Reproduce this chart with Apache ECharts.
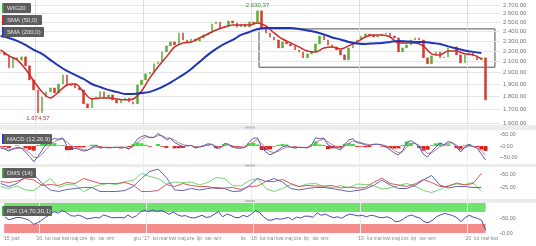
<!DOCTYPE html>
<html><head><meta charset="utf-8">
<script src="https://cdn.jsdelivr.net/npm/echarts@6/dist/echarts.min.js"></script>
<style>html,body{margin:0;padding:0;background:#fff}#c{width:536px;height:246px}</style>
</head><body><div id="c"></div>
<script>
// ---------- data ----------
const axisStart = '2015-09-05', axisEnd = '2020-04-20';
const priceStart = '2015-09-07', priceStepDays = 14;   // bi-weekly candles
const closes = [2183,2164,2044,2136,2117,2145,2062,1936,1853,1674.57,
 1796,1837,1869,1828,1902,1980,1886,1902,1869,1853,
 1742,1711,1780,1796,1837,1788,1812,1773,1749,1773,
 1788,1757,1742,1894,1936,1989,2006,2080,2098,2193,
 2252,2292,2262,2385,2312,2292,2322,2302,2333,2364,
 2385,2482,2504,2438,2449,2515,2493,2449,2482,2449,
 2504,2493,2630.37,2428,2385,2343,2312,2232,2292,2272,
 2252,2212,2193,2136,2174,2193,2272,2353,2312,2262,
 2242,2212,2164,2117,2232,2282,2312,2353,2374,2364,
 2343,2353,2374,2385,2353,2333,2193,2232,2262,2312,
 2333,2312,2136,2080,2155,2193,2136,2145,2232,2242,
 2164,2089,2164,2183,2155,2117,2136,1773];
const indStart = '2015-09-07', indStepDays = 28;       // moving averages & DMS
const sma50 = [2212,2155,2117,2033,1928,1837,1788,1837,1894,1902,
 1837,1780,1788,1788,1780,1773,1780,1844,1954,2053,
 2145,2242,2282,2292,2333,2374,2417,2449,2471,2471,
 2471,2493,2460,2385,2322,2282,2242,2202,2193,2232,
 2242,2222,2252,2292,2343,2364,2364,2343,2282,2282,
 2282,2252,2174,2164,2202,2202,2174,2164,2126];
const sma200 = [2353,2333,2302,2262,2212,2174,2117,2062,2015,1980,
 1945,1902,1877,1853,1837,1820,1820,1828,1837,1861,
 1894,1936,1980,2033,2098,2164,2222,2272,2312,2364,
 2395,2428,2438,2438,2438,2438,2428,2412,2395,2369,
 2338,2317,2292,2277,2272,2277,2282,2292,2302,2297,
 2292,2292,2282,2272,2247,2226,2207,2193,2183];
const macd = [-9,-13,-22,-12,-6,-8,-26,-46,-68,-45,
 -18,8,26,33,30,36,0,-15,-9,-15,
 -22,-18,-5,2,-9,-5,-8,-6,-5,-9,
 -5,-14,5,30,42,46,36,38,55,42,
 28,34,15,6,-2,2,3,-9,-4,2,
 10,8,-9,-9,12,8,-4,-9,-9,-4,
 17,35,35,-5,-26,-38,-30,-17,-4,2,
 -4,-9,-5,-6,-8,4,36,32,35,5,
 -4,-9,-17,8,26,32,15,12,5,2,
 8,8,4,-4,-17,-30,-39,-20,15,24,
 12,-4,-35,-48,-25,-5,13,6,20,15,
 -4,-26,-4,8,-2,-9,-35,-61];
const macdSignal = [-6,-9,-14,-13,-10,-9,-16,-30,-48,-50,
 -35,-15,5,20,27,31,18,2,-5,-10,
 -16,-17,-11,-4,-6,-6,-7,-7,-6,-7,
 -6,-10,-3,14,30,40,39,38,46,45,
 36,34,25,15,6,3,2,-3,-4,-1,
 5,7,0,-5,3,6,1,-4,-7,-6,
 5,20,28,12,-8,-24,-28,-23,-13,-5,
 -4,-6,-6,-6,-7,-2,16,25,30,18,
 6,-2,-10,-2,12,22,19,15,10,6,
 7,8,6,1,-8,-19,-29,-25,-5,10,
 12,4,-15,-32,-29,-17,-2,3,12,14,
 5,-11,-8,0,-1,-5,-20,-40];
const adx = [32,26,32,46,51,32,19,16,20,22,
 24,24,16,16,16,18,26,42,56,61,
 44,19,18,22,19,22,24,22,16,17,
 28,42,36,42,35,22,19,22,24,24,
 22,19,16,18,21,28,39,29,22,22,
 28,39,48,29,23,26,26,24,24];
const plusDI = [26,22,27,19,18,30,42,24,30,29,
 16,24,29,32,30,36,38,52,46,42,
 31,35,34,35,29,34,44,42,28,27,
 38,42,22,16,22,30,26,31,32,26,
 24,28,23,31,30,28,21,23,28,32,
 27,18,14,20,28,31,30,34,16];
const minusDI = [36,34,37,42,39,28,30,28,34,32,
 42,37,32,32,32,34,29,16,16,18,
 30,26,32,28,26,26,22,23,24,20,
 26,27,36,36,40,32,26,28,27,27,
 28,23,25,23,24,34,43,32,29,26,
 31,40,34,26,26,33,29,32,52];
const rsi = [54,44,48,52,51,47,42,29,34,43,
 53,62,71,66,75,68,58,56,60,54,
 47,49,52,50,60,56,51,51,52,50,
 60,51,57,70,76,71,77,72,75,70,
 62,70,61,56,58,52,50,54,59,52,
 54,63,71,54,63,59,52,51,59,54,
 63,75,68,54,43,43,48,46,48,52,
 44,53,50,56,56,52,67,59,63,56,
 51,54,49,58,63,60,57,59,54,59,
 57,52,51,54,49,38,39,47,56,60,
 54,50,38,34,42,54,60,65,62,58,
 51,38,51,59,53,49,43,10];
const priceTicks = [1600,1700,1800,1900,2000,2100,2200,2300,2400,2500,2600,2700];
const macdTicks = [-50,0,50];
const dmsTicks = [25,50];
const rsiTicks = [0,50];
const rsiUpper = [70,100], rsiLower = [0,30];
const boxFrom = ['2018-01-27', 2428], boxTo = ['2020-04-03', 2049];
const yearLines = ['2016-01-01','2017-01-01','2018-01-01','2019-01-01','2020-01-01'];
const monthLabels = [
 ['2015-09-12',"'15"],['2015-10-14','paź'],
 ['2016-01-01',"'16"],['2016-02-01','lut'],['2016-03-01','mar'],['2016-04-01','kwi'],['2016-05-01','maj'],['2016-06-01','cze'],['2016-07-01','lip'],['2016-08-01','sie'],['2016-09-01','wrz'],
 ['2016-12-01','gru'],['2017-01-01',"'17"],['2017-02-01','lut'],['2017-03-01','mar'],['2017-04-01','kwi'],['2017-05-01','maj'],['2017-06-01','cze'],['2017-07-01','lip'],['2017-08-01','sie'],['2017-09-01','wrz'],
 ['2017-11-28','lis'],['2018-01-01',"'18"],['2018-02-01','lut'],['2018-03-01','mar'],['2018-04-01','kwi'],['2018-05-01','maj'],['2018-06-01','cze'],['2018-07-01','lip'],['2018-08-01','sie'],['2018-09-01','wrz'],
 ['2019-01-01',"'19"],['2019-02-01','lut'],['2019-03-01','mar'],['2019-04-01','kwi'],['2019-05-01','maj'],['2019-06-01','cze'],['2019-07-01','lip'],['2019-08-01','sie'],['2019-09-01','wrz'],
 ['2020-01-01',"'20"],['2020-02-01','lut'],['2020-03-01','mar'],['2020-04-01','kwi']];
const legends = [
 {t:'WIG20', c:'#3cb93c', x:2, y:3, w:29},
 {t:'SMA (50,0)', c:'#c62828', x:2, y:15, w:40},
 {t:'SMA (200,0)', c:'#2636b8', x:2, y:27, w:42},
 {t:'MACD (12,26,9)', c:'#2636b8', x:2, y:134, w:50},
 {t:'DMS (14)', c:'#3cb93c', x:2, y:168, w:34},
 {t:'RSI (14,70,30,1)', c:'#3cb93c', x:2, y:206, w:50}];

// ---------- helpers ----------
function ts(s){ const p = s.split('-').map(Number); return new Date(p[0], p[1]-1, p[2]).getTime(); }
function seriesDates(start, step, n){ const out=[]; for(let i=0;i<n;i++){ const d=new Date(ts(start)); d.setDate(d.getDate()+step*i); out.push(d.getTime()); } return out; }
function plNum(v){ const neg=v<0; let s=Math.abs(v).toFixed(2).split('.'); const int=s[0].replace(/\B(?=(\d{3})+(?!\d))/g,'.'); return (neg?'-':'')+int+','+s[1]; }

const FONT = 'Liberation Sans, Arial, sans-serif';
const pT = seriesDates(priceStart, priceStepDays, closes.length);
const iT = seriesDates(indStart, indStepDays, sma50.length);
const ohlc = closes.map((c,i)=>{ const o = i===0 ? c : closes[i-1]; return [pT[i], o, c, Math.min(o,c), Math.max(o,c)]; });
const pair = (t, arr) => arr.map((v,i)=>[t[i], v]);
const hist = macd.map((m,i)=>{ const h = m - macdSignal[i]; return {value:[pT[i], h], itemStyle:{color: h>=0 ? '#3fdc3f' : '#e01b1b'}}; });
const labelMap = {}; monthLabels.forEach(m => { labelMap[ts(m[0])] = m[1]; });
const tMin = ts(axisStart), tMax = ts(axisEnd);

const xAx = (idx, show) => ({
  type:'value', gridIndex:idx, min:tMin, max:tMax, scale:true,
  axisLine:{show:false}, axisTick:{show:false}, splitLine:{show:false},
  axisLabel: show ? {show:true, customValues: monthLabels.map(m=>ts(m[0])), formatter: v => labelMap[v] || '',
    fontSize:5, color:'#8a8a8a', margin:3, fontFamily:FONT, showMinLabel:true, showMaxLabel:true, hideOverlap:false} : {show:false}
});
const yAx = (idx, min, max, ticks) => ({
  type:'value', gridIndex:idx, min:min, max:max, position:'right',
  axisLine:{show:false}, splitLine:{show:false},
  axisTick:{show:true, customValues:ticks, length:2, lineStyle:{color:'#aaa'}},
  axisLabel:{show:true, customValues:ticks, formatter: v => plNum(v), fontSize:5.5, color:'#777', margin:2, fontFamily:FONT}
});
const yearML = (color) => ({silent:true, symbol:'none', z:1, animation:false,
  label:{show:false}, lineStyle:{color:color, width:1, type:'solid'},
  data: yearLines.map(d => ({xAxis: ts(d)}))});

const mainML = {silent:true, symbol:'none', z:1, animation:false,
  data: priceTicks.map(v => ({yAxis:v, lineStyle:{color:'#e6e6e6', width:1, type:'solid'},
        label:{show:true, position:'end', distance:3, formatter: plNum(v), fontSize:6, color:'#777', fontFamily:FONT}}))
     .concat(yearLines.map(d => ({xAxis: ts(d), lineStyle:{color:'#dedede', width:1, type:'solid'}, label:{show:false}})))};

const graphics = [];
[[125,5],[164,3],[199,4]].forEach(s => {
  graphics.push({type:'rect', shape:{x:0, y:s[0], width:536, height:s[1]}, style:{fill:'#ececec'}, z:50});
  graphics.push({type:'rect', shape:{x:245, y:s[0]+s[1]/2-1, width:10, height:2}, style:{fill:'#c4c4c4'}, z:51});
});
legends.forEach(l => {
  graphics.push({type:'group', x:l.x, y:l.y, z:100, children:[
    {type:'rect', shape:{x:0, y:0, width:l.w, height:10, r:1}, style:{fill:'#5d5d5d'}, z:100},
    {type:'rect', shape:{x:0, y:0, width:1.5, height:10}, style:{fill:l.c}, z:101},
    {type:'text', style:{x:5, y:5, text:l.t, fill:'#e6e6e6', font:'6px ' + FONT, verticalAlign:'middle'}, z:101}
  ]});
});

const chart = echarts.init(document.getElementById('c'), null, {renderer:'canvas'});
chart.setOption({
  animation:false, backgroundColor:'#fff',
  textStyle:{fontFamily:FONT},
  grid:[
    {left:0, right:36, top:0, height:125},
    {left:0, right:36, top:130, height:34},
    {left:0, right:36, top:167, height:32.5},
    {left:0, right:36, top:203, height:30}
  ],
  xAxis:[xAx(0,false), xAx(1,false), xAx(2,false), xAx(3,true)],
  yAxis:[
    {type:'log', gridIndex:0, min:1586, max:2760, position:'right', axisLine:{show:false}, axisTick:{show:false}, axisLabel:{show:false}, splitLine:{show:false}},
    yAx(1, -78, 70, macdTicks),
    yAx(2, 0, 65, dmsTicks),
    yAx(3, 0, 100, rsiTicks)
  ],
  graphic: graphics,
  series:[
    {type:'candlestick', xAxisIndex:0, yAxisIndex:0, data:ohlc, barWidth:2,
     itemStyle:{color:'#5cad3c', color0:'#d33a2c', borderColor:'#5cad3c', borderColor0:'#d33a2c', borderWidth:0.5},
     markPoint:{symbol:'circle', symbolSize:1, itemStyle:{color:'rgba(0,0,0,0)'}, animation:false,
       label:{show:true, fontSize:6, fontFamily:FONT, formatter: p => plNum(p.value)},
       data:[{type:'min', valueDim:'lowest', label:{position:'bottom', distance:2, color:'#b23b3b'}},
             {type:'max', valueDim:'highest', label:{position:'top', distance:2, color:'#3b8a3b'}}]},
     markArea:{silent:true, animation:false, itemStyle:{color:'rgba(0,0,0,0)', borderColor:'#4d4d4d', borderWidth:1}, label:{show:false},
       data:[[{coord:[ts(boxFrom[0]), boxFrom[1]]}, {coord:[ts(boxTo[0]), boxTo[1]]}]]}},
    {type:'line', xAxisIndex:0, yAxisIndex:0, data:pair(iT, sma50), showSymbol:false, smooth:0.3,
     lineStyle:{color:'#cc2b2b', width:1.5}, z:3},
    {type:'line', xAxisIndex:0, yAxisIndex:0, data:pair(iT, sma200), showSymbol:false, smooth:0.3,
     lineStyle:{color:'#1f35b5', width:2}, z:3, markLine: mainML},
    {type:'bar', xAxisIndex:1, yAxisIndex:1, data:hist, barWidth:4},
    {type:'line', xAxisIndex:1, yAxisIndex:1, data:pair(pT, macdSignal), showSymbol:false, lineStyle:{color:'#c07c8c', width:1}},
    {type:'line', xAxisIndex:1, yAxisIndex:1, data:pair(pT, macd), showSymbol:false, lineStyle:{color:'#5a5aa6', width:1}, markLine: yearML('#ececec')},
    {type:'line', xAxisIndex:2, yAxisIndex:2, data:pair(iT, plusDI), showSymbol:false, lineStyle:{color:'#74d474', width:1}},
    {type:'line', xAxisIndex:2, yAxisIndex:2, data:pair(iT, minusDI), showSymbol:false, lineStyle:{color:'#d65858', width:1}},
    {type:'line', xAxisIndex:2, yAxisIndex:2, data:pair(iT, adx), showSymbol:false, lineStyle:{color:'#6464b4', width:1}, markLine: yearML('#ececec')},
    {type:'line', xAxisIndex:3, yAxisIndex:3, data:pair(pT, rsi), showSymbol:false, lineStyle:{color:'#4b4ba8', width:1}, z:3,
     markLine: yearML('#ececec'),
     markArea:{silent:true, animation:false, label:{show:false},
       data:[[{coord:[tMin, rsiUpper[0]], itemStyle:{color:'#6ee46e'}}, {coord:[pT[pT.length-1], rsiUpper[1]]}],
             [{coord:[tMin, rsiLower[0]], itemStyle:{color:'#f58c8c'}}, {coord:[pT[pT.length-1], rsiLower[1]]}]]}}
  ]
});
</script></body></html>
